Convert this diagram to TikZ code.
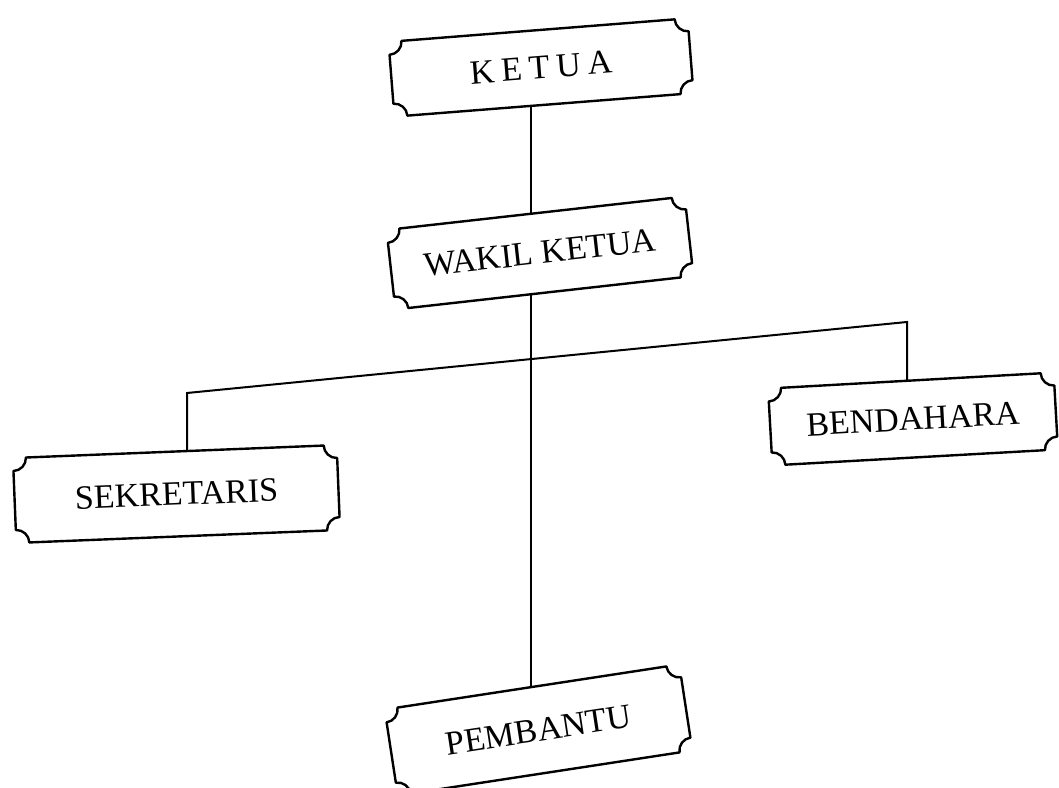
\documentclass[tikz,border=0pt]{standalone}
\usepackage{fontspec}
\setmainfont{Liberation Serif}
\usetikzlibrary{calc}

\tikzset{
  box/.style={line width=2.4pt,line join=round},
  boxtext/.style={font=\fontsize{34}{40}\selectfont,inner sep=0pt},
  link/.style={line width=2pt}
}
\newcommand{\notchr}{13}
% plaque box: name, centre, angle, width, height, text
\newcommand{\plaque}[6]{%
  \node[boxtext,rotate=#3,minimum width=#4pt,minimum height=#5pt] (#1) at #2 {#6};
  \draw[box,shift={#2},rotate=#3] (-#4/2+\notchr,#5/2) -- (#4/2-\notchr,#5/2)
    arc[start angle=180,end angle=270,radius=\notchr] -- (#4/2,-#5/2+\notchr)
    arc[start angle=90,end angle=180,radius=\notchr] -- (-#4/2+\notchr,-#5/2)
    arc[start angle=0,end angle=90,radius=\notchr] -- (-#4/2,#5/2-\notchr)
    arc[start angle=270,end angle=360,radius=\notchr] -- cycle;
}

\begin{document}
\begin{tikzpicture}[x=1pt,y=1pt]
\fill[white] (0,0) rectangle (1059,787);
\useasboundingbox (0,0) rectangle (1059,787);

\plaque{ketua}{(541,719.5)}{4.5}{300}{75}{\addfontfeature{LetterSpace=20}KETUA}
\plaque{wakil}{(540,534)}{6.4}{300}{80}{WAKIL KETUA}
\plaque{sekretaris}{(176.5,293)}{2.3}{324}{85}{SEKRETARIS}
\plaque{bendahara}{(913,368)}{3.2}{286}{77}{BENDAHARA}
\plaque{pembantu}{(538.5,57)}{8.7}{298}{87}{PEMBANTU}

\coordinate (spine) at (531,0);
\coordinate (lcorner) at (187,394);
\coordinate (rcorner) at (907,465);

\draw[link] (ketua.south -| spine) -- (wakil.north -| spine);
\draw[link] (wakil.south -| spine) -- (pembantu.north -| spine);
\draw[link] (sekretaris.north -| lcorner) -- (lcorner) -- (rcorner)
  -- (bendahara.north -| rcorner);
\end{tikzpicture}
\end{document}
